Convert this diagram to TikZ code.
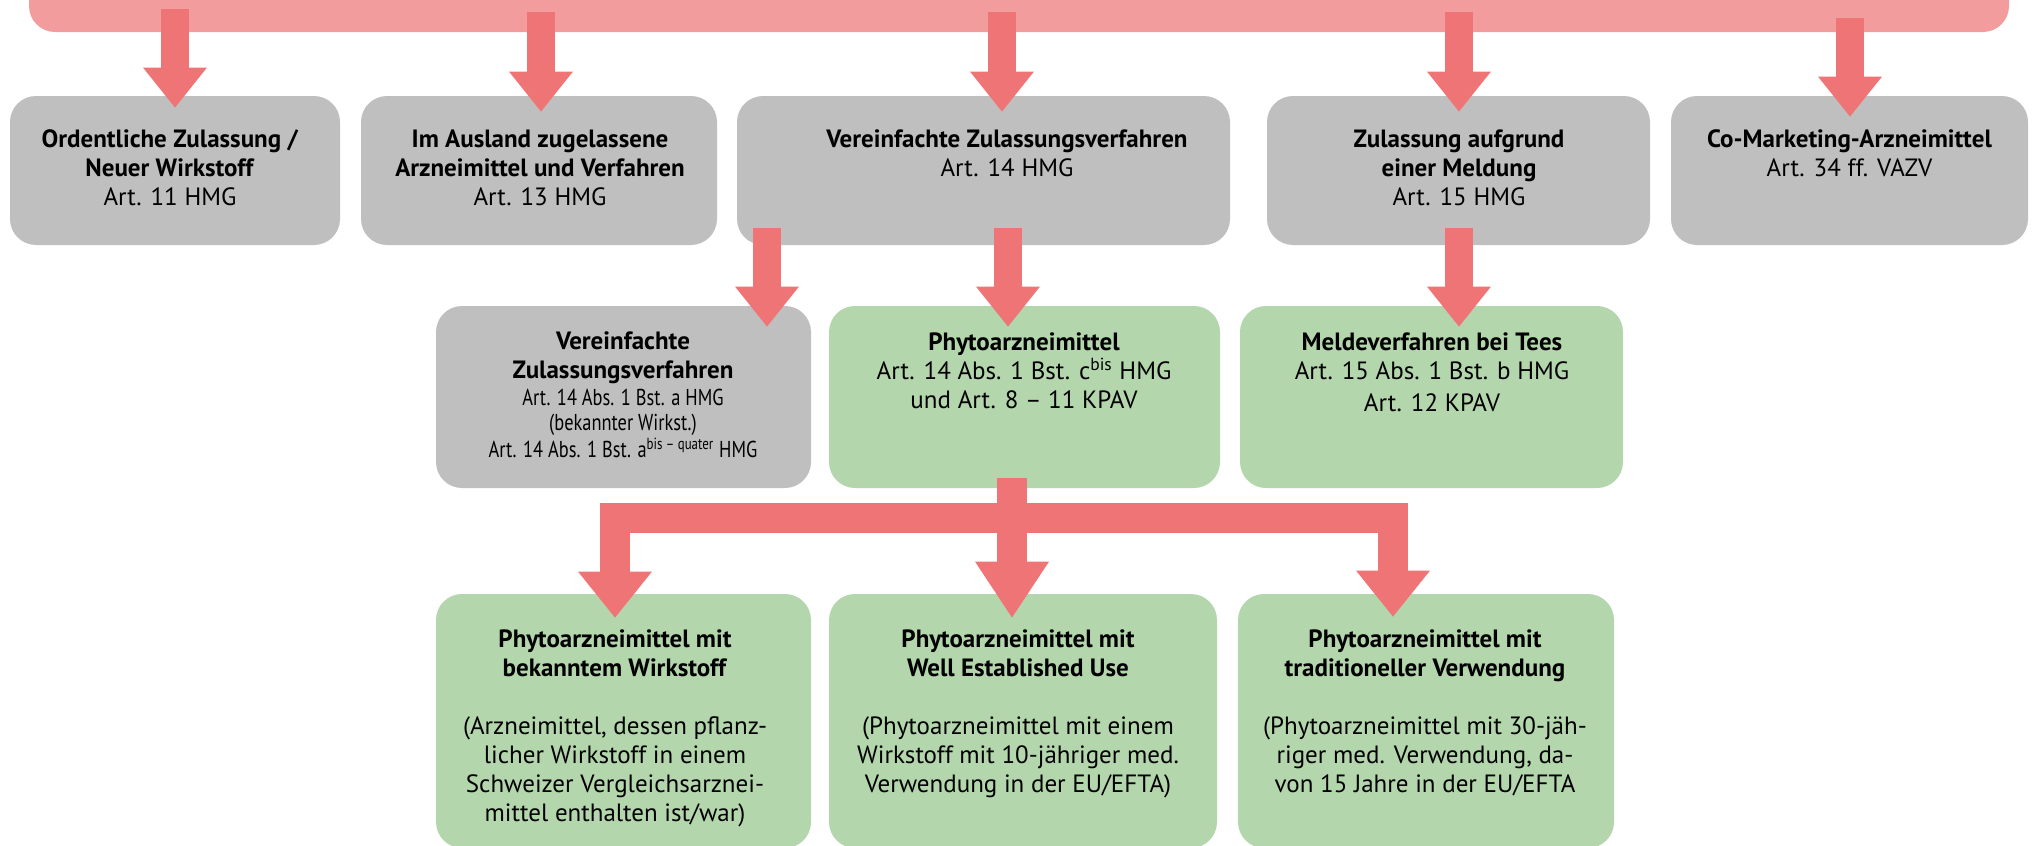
\documentclass[tikz,border=0pt]{standalone}
\usepackage{fontspec}
\setmainfont{PT Sans}
\newfontfamily\narrowfont{PT Sans}[FakeStretch=0.8]
\usetikzlibrary{arrows.meta,calc}
\definecolor{bannerc}{HTML}{F39C9D}
\definecolor{arrc}{HTML}{EF7476}
\definecolor{grayc}{HTML}{BFBFBF}
\definecolor{greenc}{HTML}{B4D6AC}
\tikzset{
 box/.style={rounded corners=13pt, inner sep=0pt, draw=none},
 graybox/.style={box, fill=grayc},
 greenbox/.style={box, fill=greenc},
 txt/.style={anchor=north, align=center, inner sep=0pt, font=\fontsize{12.5}{14.5}\selectfont},
 smalltxt/.style={anchor=north, align=center, inner sep=0pt, font=\narrowfont\fontsize{11.5}{12.5}\selectfont},
 bigarr/.style={draw=arrc, line width=14pt, -{Triangle[width=32pt,length=20pt,line width=0pt]}},
 treearr/.style={draw=arrc, line width=15pt, line join=miter, -{Triangle[width=37pt,length=23pt,line width=0pt]}},
}
\begin{document}
\begin{tikzpicture}[x=0.5pt,y=-0.5pt]
\useasboundingbox (0,0) rectangle (2035,846);
\clip (0,0) rectangle (2035,846);
% banner
\node[box, fill=bannerc, minimum width=990pt, minimum height=36pt] (banner) at (1019,-4) {};
% row 1
\node[graybox, minimum width=165pt, minimum height=74.5pt] (b1) at (175,170.5) {};
\node[graybox, minimum width=178pt, minimum height=74.5pt] (b2) at (539,170.5) {};
\node[graybox, minimum width=246.5pt, minimum height=74.5pt] (b3) at (983.5,170.5) {};
\node[graybox, minimum width=191.5pt, minimum height=74.5pt] (b4) at (1458.5,170.5) {};
\node[graybox, minimum width=178.5pt, minimum height=74.5pt] (b5) at (1849.5,170.5) {};
% row 2
\node[graybox, minimum width=187.5pt, minimum height=91pt] (bA) at (623.5,397) {};
\node[greenbox, minimum width=195.5pt, minimum height=91pt] (bB) at (1024.5,397) {};
\node[greenbox, minimum width=191.5pt, minimum height=91pt] (bC) at (1431.5,397) {};
% row 3
\node[greenbox, minimum width=187.5pt, minimum height=127pt] (bD) at (623.5,721) {};
\node[greenbox, minimum width=194pt, minimum height=127pt] (bE) at (1023,721) {};
\node[greenbox, minimum width=188pt, minimum height=127pt] (bF) at (1426,721) {};
% texts row 1
\node[txt] (t1) at (170,129) {\textbf{Ordentliche Zulassung /}\\\textbf{Neuer Wirkstoff}\\Art. 11 HMG};
\node[txt] (t2) at (540,129) {\textbf{Im Ausland zugelassene}\\\textbf{Arzneimittel und Verfahren}\\Art. 13 HMG};
\node[txt] (t3) at (1007,129) {\textbf{Vereinfachte Zulassungsverfahren}\\Art. 14 HMG};
\node[txt] (t4) at (1459,129) {\textbf{Zulassung aufgrund}\\\textbf{einer Meldung}\\Art. 15 HMG};
\node[txt] (t5) at (1849.5,129) {\textbf{Co-Marketing-Arzneimittel}\\Art. 34 ff. VAZV};
% texts row 2
\node[txt] (tA1) at (623,331) {\textbf{Vereinfachte}\\\textbf{Zulassungsverfahren}};
\node[smalltxt] (tA2) at (623,389) {Art. 14 Abs. 1 Bst. a HMG\\(bekannter Wirkst.)\\Art. 14 Abs. 1 Bst. a\textsuperscript{bis – quater} HMG};
\node[txt] (tB) at (1024,332) {\textbf{Phytoarzneimittel}\\Art. 14 Abs. 1 Bst. c\textsuperscript{bis} HMG\\und Art. 8 – 11 KPAV};
\node[txt] (tC) at (1432,332) {\textbf{Meldeverfahren bei Tees}\\Art. 15 Abs. 1 Bst. b HMG\\[1.5pt]Art. 12 KPAV};
% texts row 3
\node[txt] (tD) at (615,629) {\textbf{Phytoarzneimittel mit}\\\textbf{bekanntem Wirkstoff}\\[14.5pt](Arzneimittel, dessen pflanz-\\licher Wirkstoff in einem\\Schweizer Vergleichsarznei-\\mittel enthalten ist/war)};
\node[txt] (tE) at (1018,629) {\textbf{Phytoarzneimittel mit}\\\textbf{Well Established Use}\\[14.5pt](Phytoarzneimittel mit einem\\Wirkstoff mit 10-jähriger med.\\Verwendung in der EU/EFTA)};
\node[txt] (tF) at (1425,629) {\textbf{Phytoarzneimittel mit}\\\textbf{traditioneller Verwendung}\\[14.5pt](Phytoarzneimittel mit 30-jäh-\\riger med. Verwendung, da-\\von 15 Jahre in der EU/EFTA};
% arrows banner -> row 1
\draw[bigarr] ($(banner.south -| b1.north)+(0,-23)$) -- ($(b1.north)+(0,12)$);
\draw[bigarr] ($(banner.south -| b2.north)+(2,-20)$) -- ($(b2.north)+(2,16)$);
\draw[bigarr] ($(banner.south -| b3.north)+(18.5,-20)$) -- ($(b3.north)+(18.5,16)$);
\draw[bigarr] ($(banner.south -| b4.north)+(0.5,-20)$) -- ($(b4.north)+(0.5,16)$);
\draw[bigarr] ($(banner.south -| b5.north)+(0.5,-14)$) -- ($(b5.north)+(0.5,21)$);
% arrows row 1 -> row 2
\draw[bigarr] ($(b3.south -| bA.north)+(143.5,-17)$) -- ($(bA.north)+(143.5,21)$);
\draw[bigarr] ($(b3.south -| bB.north)+(-16.5,-17)$) -- ($(bB.north)+(-16.5,21)$);
\draw[bigarr] ($(b4.south)+(0.5,-17)$) -- ($(bC.north -| b4.south)+(0.5,21)$);
% tree bB -> row 3
\coordinate (stem) at ($(bB.south)+(-12.5,-10)$);
\coordinate (bar) at ($(stem)+(0,40)$);
\draw[treearr] (stem) -- (bar) -| ($(bD.north)+(-8.5,24)$);
\draw[treearr] (stem) -- (bar) -| ($(bF.north)+(-33,23)$);
\draw[treearr, -{Triangle[width=37pt,length=28pt,line width=0pt]}] (stem) -- ($(bE.north -| stem)+(0,24)$);
\end{tikzpicture}
\end{document}
